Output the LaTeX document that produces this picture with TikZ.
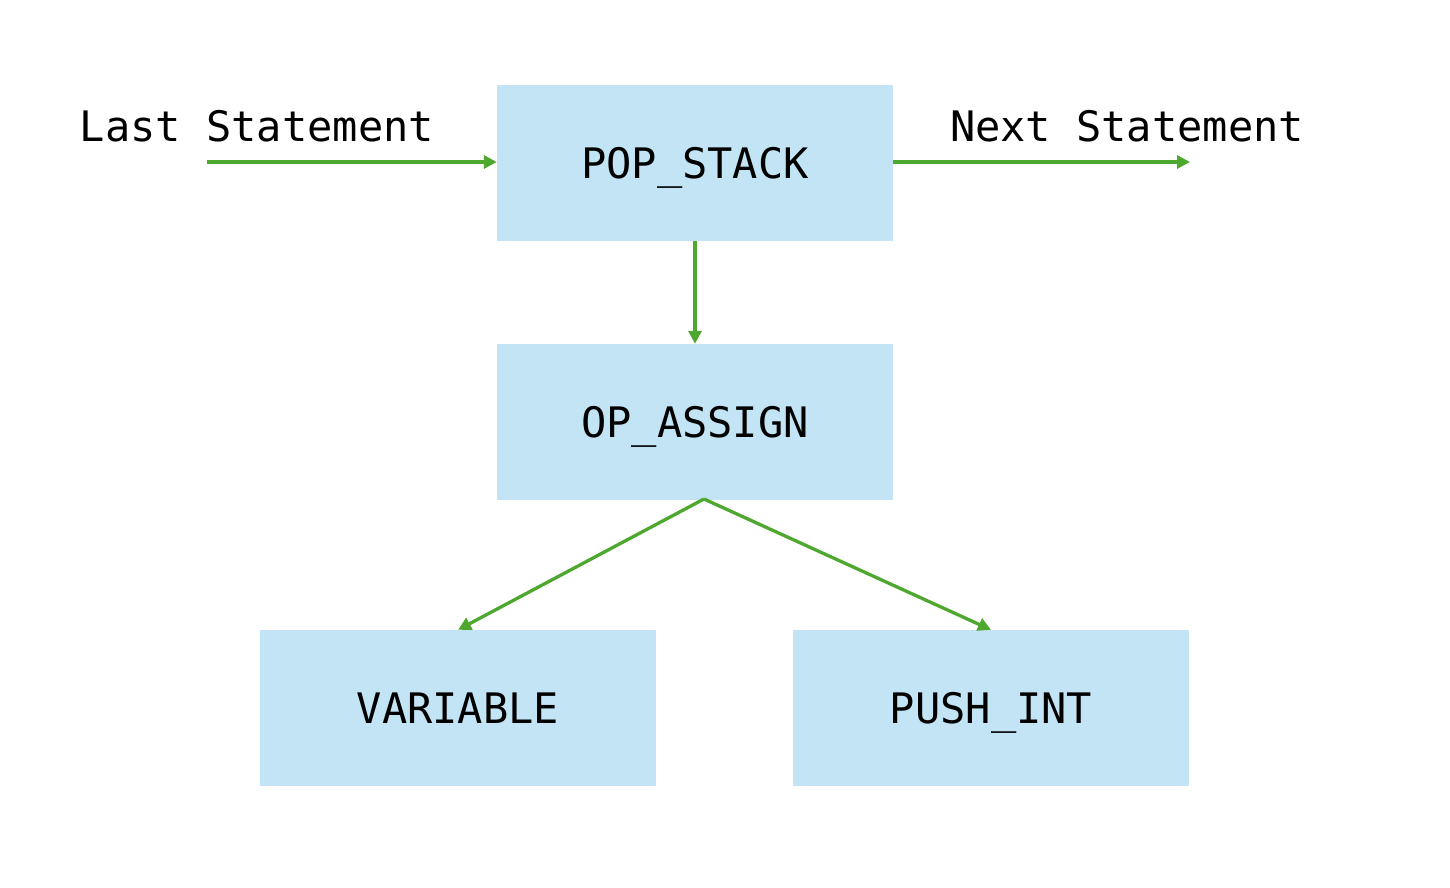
\documentclass[tikz,border=0pt]{standalone}
\usepackage{fontspec}
\setmonofont{DejaVu Sans Mono}
\usetikzlibrary{arrows.meta}
\definecolor{boxfill}{HTML}{C2E4F4}
\definecolor{arrowgreen}{HTML}{4EA72E}
\begin{document}
\begin{tikzpicture}[x=1pt,y=-1pt,
  every node/.style={font=\fontsize{42}{48}\selectfont\ttfamily, text=black, text height=30pt, text depth=0pt},
  blockbox/.style={fill=boxfill, draw=none, minimum width=396pt, minimum height=156pt, inner sep=0pt},
  flow/.style={draw=arrowgreen, line width=3.3pt, -{Triangle[length=13pt,width=13pt]}}]
\useasboundingbox (0,0) rectangle (1450,887);
\node[blockbox] (pop) at (695,163) {POP\_STACK};
\node[blockbox] (assign) at (695,422) {OP\_ASSIGN};
\node[blockbox] (var) at (458,708) {VARIABLE};
\node[blockbox] (push) at (991,708) {PUSH\_INT};
\node (last) at (257,126) {Last Statement};
\node (next) at (1127,126) {Next Statement};
\coordinate (lastStart) at (207,162);
\coordinate (nextEnd) at (1190,162);
\coordinate (fork) at (704,499);
\draw[flow] (lastStart) -- (pop.west |- lastStart);
\draw[flow] (pop.east |- nextEnd) -- (nextEnd);
\draw[flow] (pop.south) -- (assign.north);
\draw[flow] (fork) -- (var.north);
\draw[flow] (fork) -- (push.north);
\end{tikzpicture}
\end{document}
